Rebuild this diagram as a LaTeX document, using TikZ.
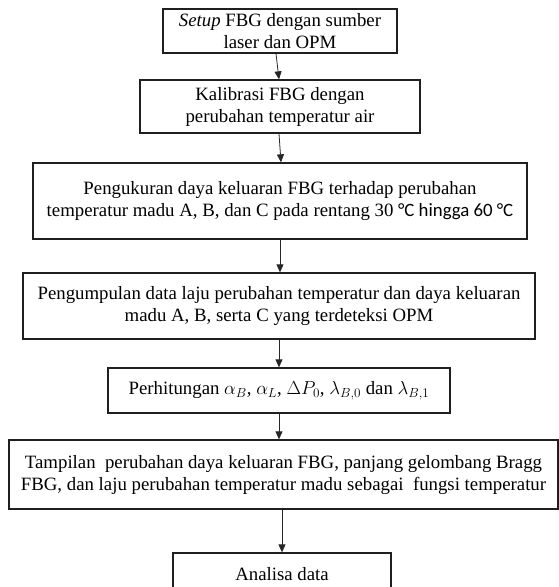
\RequirePackage{fix-cm}
\documentclass[tikz,border=0pt]{standalone}
\usepackage{fontspec}
\setmainfont{Liberation Serif}
\newfontfamily\calibri{Carlito}
\usetikzlibrary{arrows.meta}
\begin{document}
\begin{tikzpicture}[x=1pt,y=-1pt,
  box/.style={draw=black!88, line width=1.3pt, rectangle, inner sep=0pt, align=center,
    font=\fontsize{18.8}{22}\selectfont},
  arr/.style={draw=black!85, line width=0.8pt, -{Triangle[width=7pt,length=8pt]}}]
\clip (0,0) rectangle (559,587);
\fill[white] (0,0) rectangle (559,587);
\node[box, minimum width=234, minimum height=44] (b1) at (280,31)
  {\textit{Setup} FBG dengan sumber\\laser dan OPM};
\node[box, minimum width=280, minimum height=53] (b2) at (280,106.5)
  {Kalibrasi FBG dengan\\perubahan temperatur air};
\node[box, minimum width=494, minimum height=76] (b3) at (280,201)
  {Pengukuran daya keluaran FBG terhadap perubahan\\temperatur madu A, B, dan C pada rentang 30 {\calibri °C hingga 60 °C}};
\node[box, minimum width=512, minimum height=66] (b4) at (279,306)
  {Pengumpulan data laju perubahan temperatur dan daya keluaran\\madu A, B, serta C yang terdeteksi OPM};
\node[box, minimum width=342, minimum height=45] (b5) at (279,390.5)
  {Perhitungan $\alpha_B$, $\alpha_L$, $\Delta P_0$, $\lambda_{B,0}$ dan $\lambda_{B,1}$};
\node[box, minimum width=549, minimum height=69] (b6) at (283.5,474.5)
  {Tampilan\ \ perubahan daya keluaran FBG, panjang gelombang Bragg\\FBG, dan laju perubahan temperatur madu sebagai\ \ fungsi temperatur};
\node[box, minimum width=218, minimum height=42] (b7) at (282,574)
  {Analisa data};
\draw[arr] ([xshift=-4]b1.south) -- ([xshift=-1]b2.north);
\draw[arr] ([xshift=-1]b2.south) -- ([xshift=1]b3.north);
\draw[arr] (b3.south) -- (b3.south |- b4.north);
\draw[arr] (b4.south) -- (b4.south |- b5.north);
\draw[arr] (b5.south) -- (b5.south |- b6.north);
\draw[arr] (b7.north |- b6.south) -- (b7.north);
\end{tikzpicture}
\end{document}
